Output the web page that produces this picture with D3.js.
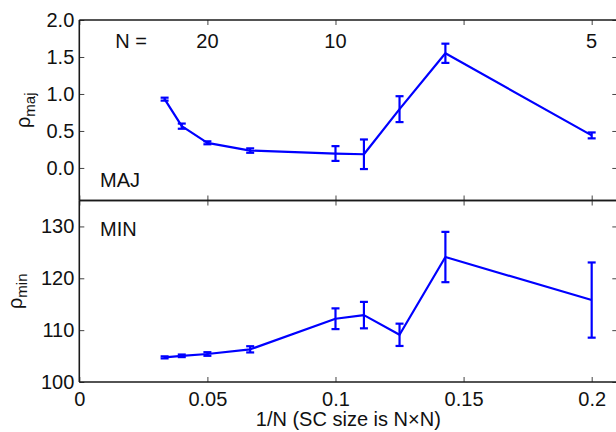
<!DOCTYPE html>
<html>
<head>
<meta charset="utf-8">
<script src="https://cdn.jsdelivr.net/npm/d3@7/dist/d3.min.js"></script>
<style>
  html, body { margin: 0; padding: 0; background: #fff; }
  svg { display: block; }
  text { font-family: "Liberation Sans", Arial, Helvetica, sans-serif; fill: #111; }
</style>
</head>
<body>
<svg id="chart" width="616" height="432"></svg>
<script>
// ---- data ----
const sizeN      = [30, 25, 20, 15, 10, 9, 8, 7, 5];
const invN       = [0.0333, 0.04, 0.05, 0.0667, 0.1, 0.1111, 0.125, 0.1429, 0.2];
const majValues  = [0.93, 0.565, 0.34, 0.235, 0.195, 0.185, 0.795, 1.55, 0.44];
const majErrors  = [0.02, 0.035, 0.02, 0.03, 0.10, 0.20, 0.175, 0.13, 0.04];
const minValues  = [104.75, 105.05, 105.4, 106.3, 112.2, 112.9, 109.1, 124.1, 115.8];
const minErrors  = [0.2, 0.25, 0.35, 0.6, 2.0, 2.55, 2.15, 4.85, 7.25];
const xTicks     = [0, 0.05, 0.1, 0.15, 0.2];
const xTickLabels = ["0", "0.05", "0.1", "0.15", "0.2"];
const majTicks   = [0, 0.5, 1.0, 1.5, 2.0];
const minTicks   = [100, 110, 120, 130];
const topNLabels = ["20", "10", "5"];
const topNPos    = [0.05, 0.1, 0.2];

// ---- layout ----
const svg = d3.select("#chart");
const L = 79.3, R = 617.3;
const topP = {y0: 20, y1: 200.5};
const botP = {y0: 200.5, y1: 382};
const FS = 20;
const blue = "#0000ff";

const x = d3.scaleLinear().domain([0, 0.21]).range([L, R]);
const yMaj = d3.scaleLinear().domain([-0.44, 2.0]).range([topP.y1, topP.y0]);
const yMin = d3.scaleLinear().domain([100, 135]).range([botP.y1, botP.y0]);

function styleAxis(g) {
  g.select(".domain").remove();
  g.selectAll(".tick line").attr("stroke", "#444").attr("stroke-width", 1);
  g.selectAll(".tick text").attr("font-size", FS).attr("fill", "#111")
    .attr("font-family", "Liberation Sans, Arial, sans-serif");
}

function panel(y, p, yTicks, yFmt, vals, errs, showXLabels) {
  // y axes
  svg.append("g").attr("transform", `translate(${L},0)`)
    .call(d3.axisLeft(y).tickValues(yTicks).tickFormat(yFmt).tickSize(-5).tickPadding(5))
    .call(styleAxis);
  svg.append("g").attr("transform", `translate(${R},0)`)
    .call(d3.axisRight(y).tickValues(yTicks).tickFormat("").tickSize(-5))
    .call(styleAxis);
  // x axes
  svg.append("g").attr("transform", `translate(0,${p.y0})`)
    .call(d3.axisTop(x).tickValues(xTicks).tickFormat("").tickSize(-5))
    .call(styleAxis);
  const xb = svg.append("g").attr("transform", `translate(0,${p.y1})`)
    .call(d3.axisBottom(x).tickValues(xTicks)
      .tickFormat(showXLabels ? ((d, i) => xTickLabels[i]) : "")
      .tickSize(-5).tickPadding(10))
    .call(styleAxis);

  // frame
  const fr = svg.append("g").attr("stroke", "#1a1a1a").attr("stroke-width", 1.6).attr("fill", "none");
  fr.append("line").attr("x1", L).attr("x2", R + 2).attr("y1", p.y0).attr("y2", p.y0);
  fr.append("line").attr("x1", L).attr("x2", R + 2).attr("y1", p.y1).attr("y2", p.y1);
  fr.append("line").attr("x1", L).attr("x2", L).attr("y1", p.y0).attr("y2", p.y1);
  fr.append("line").attr("x1", R).attr("x2", R).attr("y1", p.y0).attr("y2", p.y1);

  // data line
  const pts = invN.map((d, i) => [d, vals[i], errs[i]]);
  svg.append("path").datum(pts)
    .attr("fill", "none").attr("stroke", blue).attr("stroke-width", 2.2)
    .attr("stroke-linejoin", "round")
    .attr("d", d3.line().x(d => x(d[0])).y(d => y(d[1])));
  // error bars
  const eb = svg.append("g").attr("stroke", blue).attr("stroke-width", 2.2).attr("fill", "none");
  pts.forEach(d => {
    const cx = x(d[0]), yt = y(d[1] + d[2]), ybt = y(d[1] - d[2]);
    eb.append("line").attr("x1", cx).attr("x2", cx).attr("y1", yt).attr("y2", ybt);
    eb.append("line").attr("x1", cx - 4).attr("x2", cx + 4).attr("y1", yt).attr("y2", yt);
    eb.append("line").attr("x1", cx - 4).attr("x2", cx + 4).attr("y1", ybt).attr("y2", ybt);
  });
}

panel(yMaj, topP, majTicks, d3.format(".1f"), majValues, majErrors, false);
panel(yMin, botP, minTicks, d3.format("d"), minValues, minErrors, true);

// top N labels
svg.append("text").attr("x", 131).attr("y", 48).attr("text-anchor", "middle")
  .attr("font-size", FS).text("N =");
topNLabels.forEach((t, i) => {
  svg.append("text").attr("x", x(topNPos[i])).attr("y", 48).attr("text-anchor", "middle")
    .attr("font-size", FS).text(t);
});

// panel names
svg.append("text").attr("x", 100).attr("y", 187).attr("font-size", FS).text("MAJ");
svg.append("text").attr("x", 100).attr("y", 236).attr("font-size", FS).text("MIN");

// y labels
function yLabel(cx, cy, sub) {
  const t = svg.append("text").attr("transform", `translate(${cx},${cy}) rotate(-90)`)
    .attr("text-anchor", "middle").attr("font-size", FS);
  t.append("tspan").text("ρ");
  t.append("tspan").attr("font-size", 15).attr("dy", 5).text(sub);
}
yLabel(30, (topP.y0 + topP.y1) / 2, "maj");
yLabel(22, (botP.y0 + botP.y1) / 2, "min");

// x label
svg.append("text").attr("x", (L + R) / 2).attr("y", 426).attr("text-anchor", "middle")
  .attr("font-size", FS).text("1/N (SC size is N×N)");
</script>
</body>
</html>
